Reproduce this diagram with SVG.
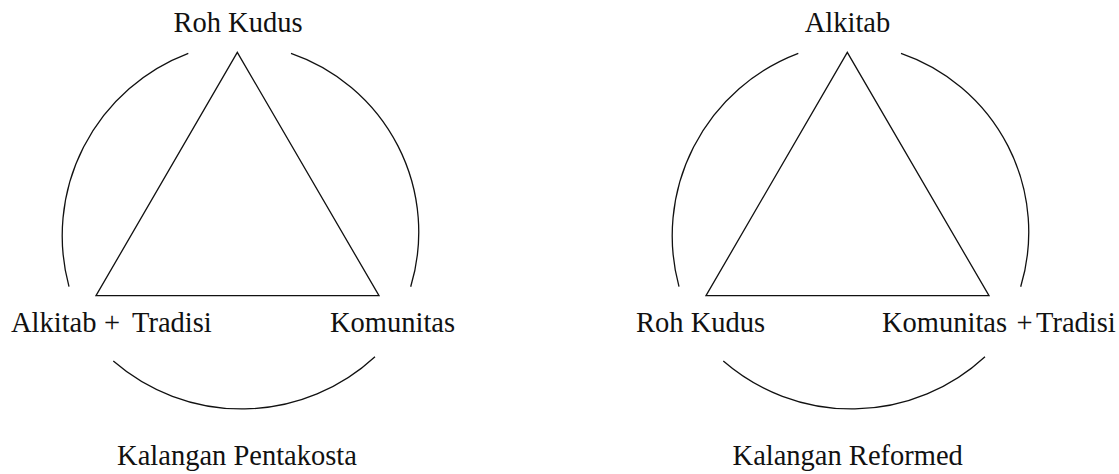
<svg xmlns="http://www.w3.org/2000/svg" width="1119" height="474" viewBox="0 0 1119 474">
<style>
.ln{fill:none;stroke:#111;stroke-width:1.3}
.t{font-family:"Liberation Serif","Times New Roman",serif;font-size:28.5px;fill:#111}
.m{text-anchor:middle}
</style>
<rect width="1119" height="474" fill="#fff"/>
<defs>
<g id="figure">
<path class="ln" d="M188.3 53.3 A195 195 0 0 0 69 286.7"/>
<path class="ln" d="M291 53.3 A189 189 0 0 1 410.7 286.7"/>
<path class="ln" d="M113.3 361 A196 196 0 0 0 375 356.7"/>
<path class="ln" d="M237.3 52.3 L96 295.7 L379 295.7 Z"/>
</g>
</defs>
<g id="connectors">
<use href="#figure"/>
<use href="#figure" transform="translate(610 0)"/>
</g>
<g id="pentakosta">
<text class="t m" x="238" y="31.7">Roh Kudus</text>
<text class="t" y="332.3"><tspan x="11">Alkitab</tspan><tspan x="104">+</tspan><tspan x="132">Tradisi</tspan></text>
<text class="t" x="330" y="332.3">Komunitas</text>
<text class="t m" x="237" y="465">Kalangan Pentakosta</text>
</g>
<g id="reformed">
<text class="t m" x="847.5" y="31.7">Alkitab</text>
<text class="t" x="636" y="332.3">Roh Kudus</text>
<text class="t" y="332.3"><tspan x="882">Komunitas</tspan><tspan x="1016.5">+</tspan><tspan x="1036">Tradisi</tspan></text>
<text class="t m" x="847.7" y="465">Kalangan Reformed</text>
</g>
</svg>
